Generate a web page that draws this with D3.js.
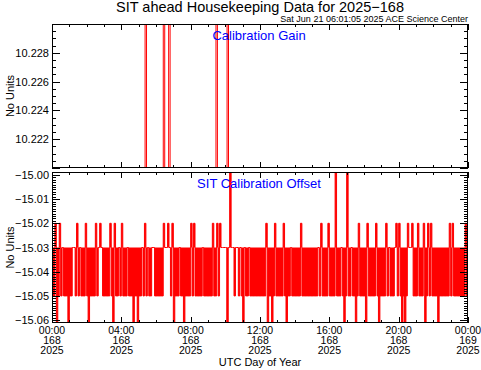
<!DOCTYPE html>
<html>
<head>
<meta charset="utf-8">
<script src="https://cdn.jsdelivr.net/npm/d3@7"></script>
<style>
  body { margin: 0; background: #fff; }
  svg { display: block; font-family: "Liberation Sans", Arial, sans-serif; }
</style>
</head>
<body>
<svg id="chart" width="481" height="370"></svg>
<script>
// ---- data ----
var titleText = "SIT ahead Housekeeping Data for 2025\u2212168";
var stampText = "Sat Jun 21 06:01:05 2025 ACE Science Center";

var hourTicks = [0, 4, 8, 12, 16, 20, 24];
var hourLabels = ["00:00", "04:00", "08:00", "12:00", "16:00", "20:00", "00:00"];
var dayLabels = ["168", "168", "168", "168", "168", "168", "169"];
var yearLabels = ["2025", "2025", "2025", "2025", "2025", "2025", "2025"];

var gainTicks = [10.222, 10.224, 10.226, 10.228];
var gainBase = 10.2;        // off scale below
var gainSpike = 10.24;      // off scale above
var gainSpikeHours = [5.37, 6.42, 6.73, 9.46, 10.10];

var offsetTicks = [-15.06, -15.05, -15.04, -15.03, -15.02, -15.01, -15.00];
// one letter per 5 minute sample
var offsetBase = -15.03;
var offsetLevels = { a: -15.03, b: -15.05, c: -15.02, d: -15.07, e: -14.98 };
var offsetCodes =
  "bbcdbcbabbbd" + "bbaabcbabbbc" + "bdbbbbcbacab" + "bbbbcbdcbbab" +
  "cbbbabbbdbbd" + "bbabcbabbaab" + "bbbbbcaacabc" + "dbbbabbdbbbb" +
  "cbcbbbbbabbb" + "bbbcbbcbcaaa" + "adaeaabaabab" + "dabbabbbbbbb" +
  "bbbbcdbbdbcb" + "bbbbcbdbbabb" + "bbbbcbbbbbbb" + "bbbbabcbbbbc" +
  "bbbbebbbabdb" + "ebbabbdbcbbb" + "bdcbbbbbcbdb" + "bbbcbabbbacb" +
  "cbdbdbcaacbb" + "bcbbbcdbcbcb" + "bbbdbbbbbbbc" + "bcbbbbbbbbcb" + "a";

// ---- layout ----
var svg = d3.select("#chart");
var left = 52, right = 468;
var top1 = 24, bot1 = 168;
var top2 = 172, bot2 = 323;

var x = d3.scaleLinear().domain([0, 24]).range([left, right]);
var yGain = d3.scaleLinear().domain([10.220, 10.230]).range([bot1, top1]);
var yOff = d3.scaleLinear().domain([-15.0612, -14.9988]).range([bot2, top2]);

// build series
var gainData = [{ t: 0, v: gainBase }];
gainSpikeHours.forEach(function(h) {
  gainData.push({ t: h, v: gainBase }, { t: h, v: gainSpike },
                { t: h + 1 / 12, v: gainSpike }, { t: h + 1 / 12, v: gainBase });
});
gainData.push({ t: 24, v: gainBase });

var offsetData = offsetCodes.split("").map(function(c, i) {
  return { t: i / 12, v: offsetLevels[c] };
});

// clip paths
var defs = svg.append("defs");
defs.append("clipPath").attr("id", "clip1").append("rect")
  .attr("x", left).attr("y", top1).attr("width", right - left).attr("height", bot1 - top1);
defs.append("clipPath").attr("id", "clip2").append("rect")
  .attr("x", left).attr("y", top2).attr("width", right - left).attr("height", bot2 - top2);

// gain trace
svg.append("path")
  .datum(gainData)
  .attr("clip-path", "url(#clip1)")
  .attr("fill", "none").attr("stroke", "#ff0000").attr("stroke-width", 1)
  .attr("d", d3.line().x(function(d){return x(d.t);}).y(function(d){return yGain(d.v);}));

// offset trace: dense toggling drawn as a filled step band plus its outline
svg.append("path")
  .datum(offsetData)
  .attr("clip-path", "url(#clip2)")
  .attr("fill", "#ff0000").attr("stroke", "none")
  .attr("d", d3.area().curve(d3.curveStepAfter)
    .x(function(d){return x(d.t);})
    .y0(yOff(offsetBase))
    .y1(function(d){return yOff(d.v);}));

svg.append("path")
  .datum(offsetData)
  .attr("clip-path", "url(#clip2)")
  .attr("fill", "none").attr("stroke", "#ff0000").attr("stroke-width", 1)
  .attr("d", d3.line().curve(d3.curveStepAfter)
    .x(function(d){return x(d.t);}).y(function(d){return yOff(d.v);}));

// frames
function frame(y0, y1) {
  svg.append("rect")
    .attr("x", left + 0.5).attr("y", y0 + 0.5)
    .attr("width", right - left - 1).attr("height", y1 - y0 - 1)
    .attr("fill", "none").attr("stroke", "#000").attr("stroke-width", 1);
}
frame(top1, bot1);
frame(top2, bot2);

// gain panel y ticks (left and right, pointing inward)
(function() {
  var g = svg.append("g").attr("stroke", "#000").attr("stroke-width", 1);
  for (var k = 0; k <= 20; k++) {
    var v = 10.220 + k * 0.0005;
    var yy = Math.round(yGain(v)) + 0.5;
    var l = (k % 4 === 0) ? 8 : 4;
    g.append("line").attr("x1", left).attr("x2", left + l).attr("y1", yy).attr("y2", yy);
    g.append("line").attr("x1", right).attr("x2", right - l).attr("y1", yy).attr("y2", yy);
  }
  svg.append("g").selectAll("text").data(gainTicks).enter().append("text")
    .attr("x", left - 3)
    .attr("y", function(d){return yGain(d) + 4;})
    .attr("text-anchor", "end")
    .attr("font-size", 11)
    .text(function(d){return d3.format(".3f")(d);});
})();

// offset panel y ticks
(function() {
  var g = svg.append("g").attr("stroke", "#000").attr("stroke-width", 1);
  for (var k = 0; k <= 60; k++) {
    var v = -15.06 + k * 0.001;
    var yy = Math.round(yOff(v)) + 0.5;
    var l = (k % 10 === 0) ? 8 : 4;
    g.append("line").attr("x1", left).attr("x2", left + l).attr("y1", yy).attr("y2", yy);
    g.append("line").attr("x1", right).attr("x2", right - l).attr("y1", yy).attr("y2", yy);
  }
  svg.append("g").selectAll("text").data(offsetTicks).enter().append("text")
    .attr("x", left - 3)
    .attr("y", function(d){return yOff(d) + 4;})
    .attr("text-anchor", "end")
    .attr("font-size", 11)
    .text(function(d){return d3.format(".2f")(d).replace("-", "\u2212");});
})();

// x ticks on both panels, top and bottom edges
function xTicks(y0, y1) {
  var g = svg.append("g").attr("stroke", "#000").attr("stroke-width", 1);
  for (var h = 0; h <= 24; h += 1) {
    var xx = Math.round(x(h)) + 0.5;
    var l = (h % 4 === 0) ? 6 : 3;
    g.append("line").attr("x1", xx).attr("x2", xx).attr("y1", y1).attr("y2", y1 - l);
    g.append("line").attr("x1", xx).attr("x2", xx).attr("y1", y0).attr("y2", y0 + l);
  }
}
xTicks(top1, bot1);
xTicks(top2, bot2);

var xl = svg.append("g").attr("font-size", 10.5).attr("text-anchor", "middle");
[hourLabels, dayLabels, yearLabels].forEach(function(arr, row) {
  xl.selectAll("text.r" + row).data(hourTicks).enter().append("text")
    .attr("class", "r" + row)
    .attr("x", function(d){return x(d);})
    .attr("y", bot2 + 11 + row * 10)
    .text(function(d, i){return arr[i];});
});

svg.append("text").attr("x", 260).attr("y", 366).attr("text-anchor", "middle")
  .attr("font-size", 11).text("UTC Day of Year");

// y axis titles
function yTitle(cy) {
  svg.append("text").attr("transform", "translate(14," + cy + ") rotate(-90)")
    .attr("text-anchor", "middle").attr("font-size", 11).text("No Units");
}
yTitle((top1 + bot1) / 2);
yTitle((top2 + bot2) / 2);

// titles
svg.append("text").attr("x", 260).attr("y", 12).attr("text-anchor", "middle")
  .attr("font-size", 14.5).text(titleText);
svg.append("text").attr("x", right).attr("y", 22).attr("text-anchor", "end")
  .attr("font-size", 9).text(stampText);

svg.append("text").attr("x", 259).attr("y", 40).attr("text-anchor", "middle")
  .attr("font-size", 13).attr("fill", "#0000ff").text("Calibration Gain");
svg.append("text").attr("x", 259).attr("y", 188).attr("text-anchor", "middle")
  .attr("font-size", 13).attr("fill", "#0000ff").text("SIT Calibration Offset");
</script>
</body>
</html>
